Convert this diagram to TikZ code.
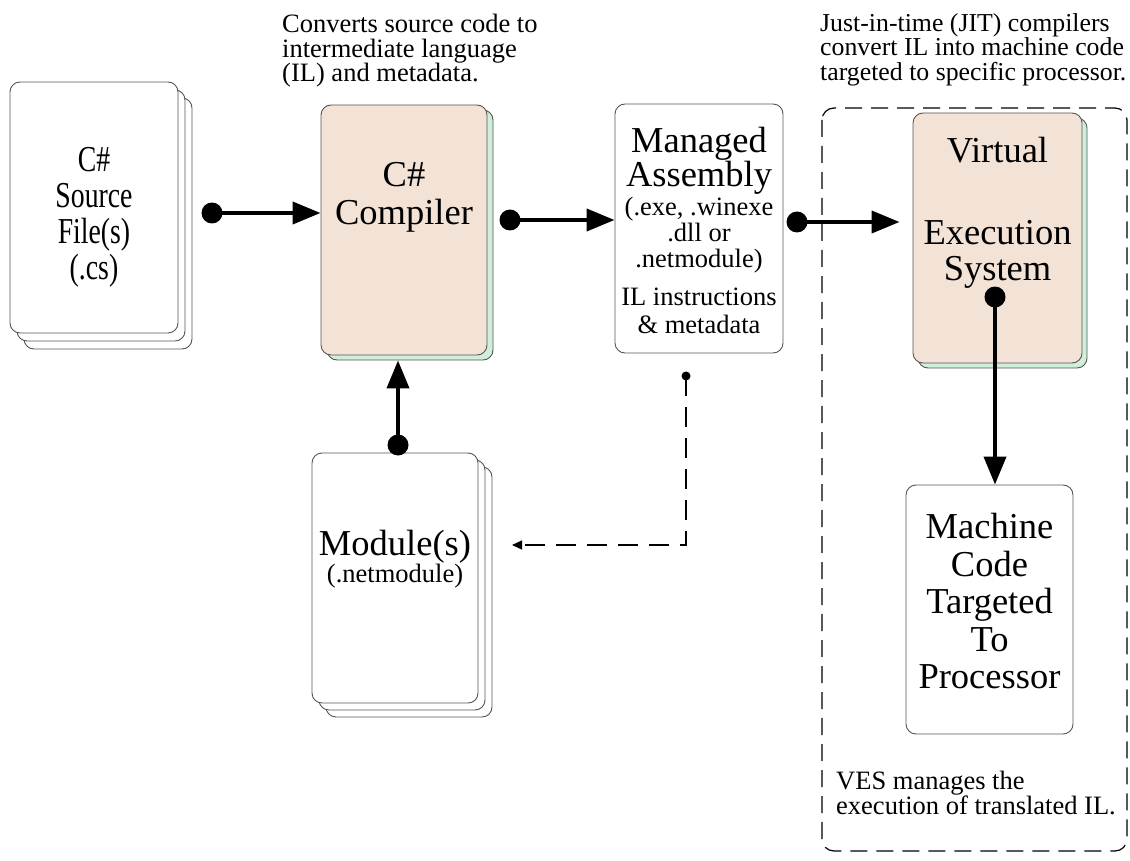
\documentclass[tikz,border=0pt]{standalone}
\usepackage{fontspec}
\setmainfont{Liberation Serif}
\newfontfamily\narrowserif[FakeStretch=0.76]{Liberation Serif}
\usetikzlibrary{arrows.meta,calc}
\definecolor{peach}{HTML}{F3E3D7}
\definecolor{mint}{HTML}{CFEEDC}
\definecolor{edge}{HTML}{555555}
\newcommand\tightlines{\lineskiplimit-50pt\lineskip0pt\relax}
\newcommand\fs[2]{\fontsize{#1}{#2}\selectfont\tightlines}
\begin{document}
\begin{tikzpicture}[x=1pt,y=-1pt,
  card/.style={draw=edge,line width=0.9pt,rounded corners=10pt,fill=white,inner sep=0pt},
  peachbox/.style={card,fill=peach},
  mintbox/.style={card,fill=mint},
  bigtxt/.style={font={\fs{36.5}{37.5}},align=center,inner sep=0pt,anchor=north},
  smalltxt/.style={font={\fs{26.5}{24.5}},inner sep=0pt},
  dotn/.style={circle,fill=black,inner sep=0pt,minimum size=21pt},
  sdot/.style={circle,fill=black,inner sep=0pt,minimum size=9pt},
  flow/.style={line width=4pt,-{Triangle[length=28pt,width=22pt]}},
  dflow/.style={line width=1.3pt,dash pattern=on 20pt off 11pt,-{Triangle[length=10pt,width=9pt]}}]
\useasboundingbox (0,0) rectangle (1130,861);

% C# source stack
\node[card,minimum width=168pt,minimum height=251pt] (src3) at (108,223.5) {};
\node[card,minimum width=168pt,minimum height=251pt] (src2) at (101,215.5) {};
\node[card,minimum width=168pt,minimum height=251pt] (src) at (94,207.5) {};
\node[bigtxt,font={\narrowserif\fs{36.5}{36}}] (srct) at (94,147) {C\#\\Source\\File(s)\\(.cs)};

% compiler
\node[mintbox,minimum width=166pt,minimum height=250pt] (compsh) at (410,235) {};
\node[peachbox,minimum width=166pt,minimum height=250pt] (comp) at (404,230) {};
\node[bigtxt,font={\fs{36.5}{38}}] (compt) at (404,162) {C\#\\Compiler};

% managed assembly
\node[card,minimum width=168pt,minimum height=249pt] (asm) at (699,228.5) {};
\node[bigtxt,font={\fs{36.5}{34}}] (asmt1) at (699,127) {Managed\\Assembly};
\node[smalltxt,font={\fs{26.5}{26}},align=center,anchor=north] (asmt2) at (699,197) {(.exe, .winexe\\.dll or\\.netmodule)};
\node[smalltxt,font={\fs{26.5}{28}},align=center,anchor=north] (asmt3) at (699,288) {IL instructions\\\&\ metadata};

% VES region
\draw[line width=1.2pt,dash pattern=on 17pt off 9pt,rounded corners=12pt] (822,108) rectangle (1127,851);
\node[mintbox,minimum width=169pt,minimum height=250pt] (vessh) at (1002.5,243) {};
\node[peachbox,minimum width=169pt,minimum height=250pt] (ves) at (997.5,238) {};
\node[bigtxt,font={\fs{36.5}{36}}] (vest) at (997.5,137) {Virtual\\[46pt]Execution\\System};

% machine code
\node[card,minimum width=167pt,minimum height=249pt] (mc) at (989.5,609.5) {};
\node[bigtxt] (mct) at (989.5,513) {Machine\\Code\\Targeted\\To\\Processor};

% modules stack
\node[card,minimum width=166pt,minimum height=250pt] (mod3) at (409,592) {};
\node[card,minimum width=166pt,minimum height=250pt] (mod2) at (402,585) {};
\node[card,minimum width=166pt,minimum height=250pt] (mod) at (395,578) {};
\node[bigtxt] (modt1) at (395,530) {Module(s)};
\node[smalltxt,anchor=north] (modt2) at (395,564) {(.netmodule)};

% annotations
\node[smalltxt,align=left,anchor=north west] (ann1) at (282,14) {Converts source code to\\intermediate language\\(IL) and metadata.};
\node[smalltxt,font={\fs{25.8}{24.5}},align=left,anchor=north west] (ann2) at (820,13) {Just-in-time (JIT) compilers\\convert IL into machine code\\targeted to specific processor.};
\node[smalltxt,align=left,anchor=north west] (ann3) at (836,771) {VES manages the\\execution of translated IL.};

% connectors
\node[dotn] (d1) at (212,213) {};
\draw[flow] (d1.center) -- (d1 -| comp.west);
\node[dotn] (d2) at (510,220) {};
\draw[flow] (d2.center) -- (d2 -| asm.west);
\node[dotn] (d3) at (797,222) {};
\draw[flow,shorten >=13pt] (d3.center) -- (d3 -| ves.west);
\node[dotn] (d4) at (398,445) {};
\draw[flow] (d4.center) -- (d4 |- compsh.south);
\node[dotn] (d5) at (995,297) {};
\draw[flow] (d5.center) -- (d5 |- mc.north);
\node[sdot] (d6) at (686,376) {};
\coordinate (dend) at (512,545);
\draw[dflow] (d6.center) |- (dend);
\end{tikzpicture}
\end{document}
